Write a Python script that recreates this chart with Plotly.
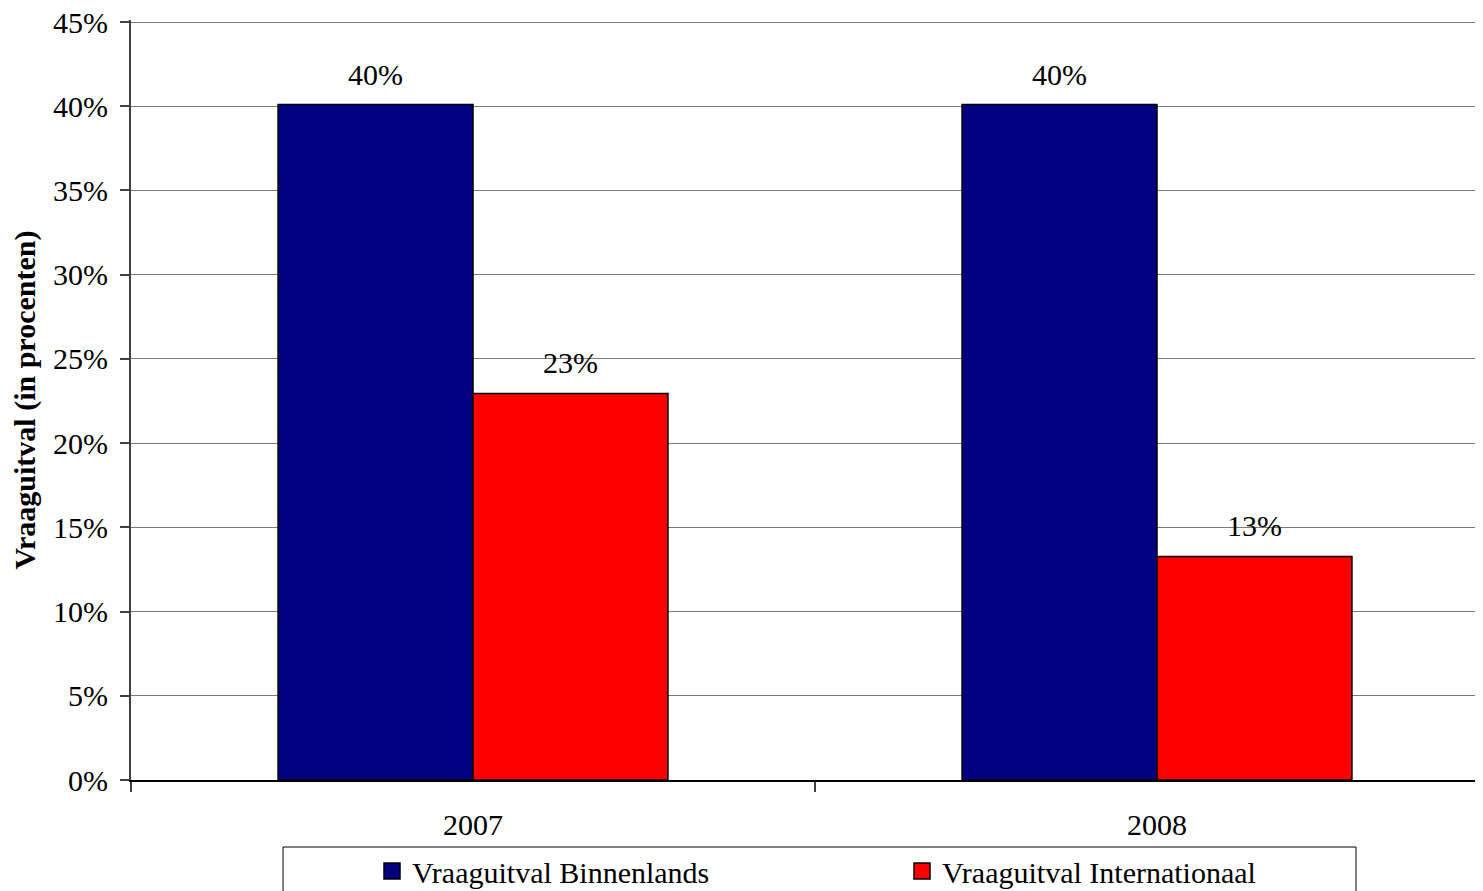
import plotly.graph_objects as go

categories = ["2007", "2008"]
binnenlands = [40.1, 40.1]
internationaal = [22.95, 13.27]
series_names = ["Vraaguitval Binnenlands", "Vraaguitval Internationaal"]
series_colors = ["#000080", "#FF0000"]
y_ticks = [0, 5, 10, 15, 20, 25, 30, 35, 40, 45]
y_tick_labels = [f"{t}%" for t in y_ticks]

FONT = "Liberation Serif, Times New Roman, serif"
FS = 30
BARGAP = 0.43
bar_w = (1 - BARGAP) / 2
Y_MAX = 45.12  # a hair above 45 so the 45% gridline is drawn

fig = go.Figure()
for vals, name, col in zip([binnenlands, internationaal], series_names, series_colors):
    fig.add_trace(go.Bar(
        x=categories, y=vals, name=name, showlegend=False,
        marker=dict(color=col, line=dict(color="black", width=1.5)),
    ))
    # legend proxies
    fig.add_trace(go.Scatter(
        x=[None], y=[None], mode="markers", name=name,
        marker=dict(symbol="square", size=19, color=col, line=dict(color="black", width=1.5)),
    ))

# value labels
for s, vals in enumerate([binnenlands, internationaal]):
    off = (s - 0.5) * bar_w
    for i, v in enumerate(vals):
        fig.add_annotation(
            x=i + off, y=v, xref="x", yref="y",
            text=f"{round(v):.0f}%", showarrow=False,
            yanchor="bottom", yshift=12,
            font=dict(family=FONT, size=FS, color="black"),
        )

# page body has an 8px margin: figure pixel = screen pixel - 8
OFF = 8
W, H = 1483 - OFF, 891 - OFF
L, T = 131 - OFF, 20 - OFF
B = H - (780 - OFF)
plot_h = H - T - B
plot_w = W - L

def px_to_paper_x(px):  # px in screen coordinates
    return (px - OFF - L) / plot_w

def px_to_paper_y(py):
    return (H - B - (py - OFF)) / plot_h

# legend box
fig.add_shape(type="rect", xref="paper", yref="paper",
              x0=px_to_paper_x(283), x1=px_to_paper_x(1356),
              y0=px_to_paper_y(847), y1=px_to_paper_y(905),
              line=dict(color="black", width=1), fillcolor="white", layer="below")

fig.update_layout(
    width=W, height=H,
    margin=dict(l=L, r=0, t=T, b=B, autoexpand=False),
    paper_bgcolor="white", plot_bgcolor="white",
    barmode="group", bargap=BARGAP, bargroupgap=0,
    font=dict(family=FONT, size=FS, color="black"),
    showlegend=True,
    legend=dict(
        orientation="h", x=px_to_paper_x(372), xanchor="left",
        y=px_to_paper_y(845), yanchor="top",
        bgcolor="rgba(0,0,0,0)", borderwidth=0,
        entrywidth=485, entrywidthmode="pixels",
        font=dict(family=FONT, size=FS, color="black"),
        itemsizing="trace",
    ),
)
fig.update_xaxes(
    type="category", range=[-0.5, 1.4766], automargin=False,
    showline=True, linecolor="black", linewidth=2,
    ticks="outside", tickson="boundaries", ticklen=10, tickcolor="#404040", tickwidth=1.5,
    showgrid=False, ticklabelstandoff=17, ticklabeloverflow="allow",
    tickfont=dict(family=FONT, size=FS, color="black"),
)
fig.update_yaxes(
    range=[0, Y_MAX], tickvals=y_ticks, ticktext=y_tick_labels, automargin=False,
    showline=True, linecolor="#404040", linewidth=2,
    ticks="outside", ticklen=9, tickcolor="#404040", tickwidth=1.5,
    showgrid=True, gridcolor="#7a7a7a", gridwidth=1,
    zeroline=False, ticklabelstandoff=6, ticklabeloverflow="allow",
    tickfont=dict(family=FONT, size=FS, color="black"),
    title=dict(text="<b>Vraaguitval (in procenten)</b>", standoff=19,
               font=dict(family=FONT, size=30, color="black")),
)

fig.write_html("out.html")
